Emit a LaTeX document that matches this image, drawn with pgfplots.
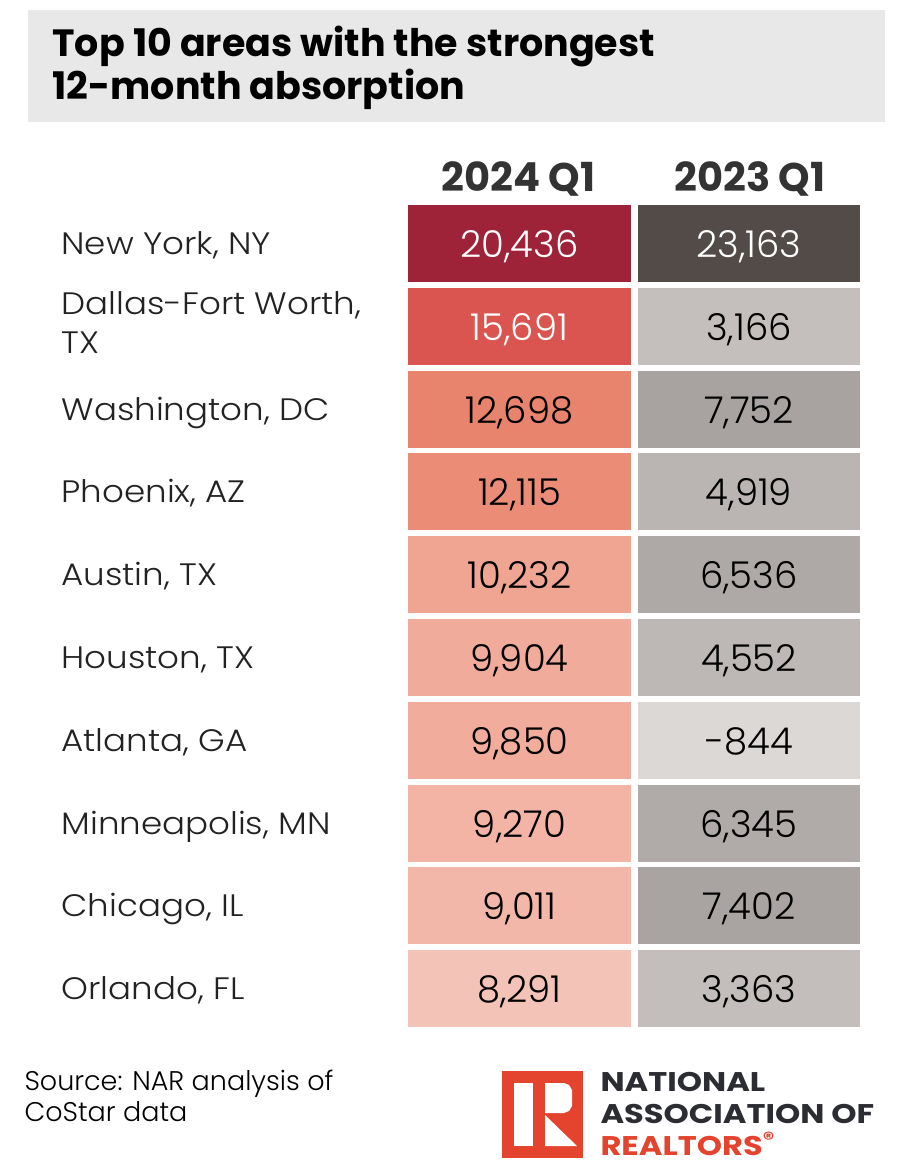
\documentclass[border=0pt]{standalone}
\usepackage{pgfplots}
\pgfplotsset{compat=1.18}
\usepackage{fontspec}
\setmainfont{Poppins}
\newfontfamily\lightfont{Poppins Light}
\definecolor{titlegray}{HTML}{E8E8E8}
\definecolor{labtxt}{HTML}{222222}
\definecolor{hdrtxt}{HTML}{333333}
\definecolor{nared}{HTML}{E4432D}
\definecolor{nadark}{HTML}{2B2D33}
% 2024 column colours
\definecolor{a1}{HTML}{9E2339}
\definecolor{a2}{HTML}{DB5550}
\definecolor{a3}{HTML}{E8836D}
\definecolor{a4}{HTML}{EA8C76}
\definecolor{a5}{HTML}{F0A593}
\definecolor{a6}{HTML}{F1AB9B}
\definecolor{a7}{HTML}{F1AC9C}
\definecolor{a8}{HTML}{F3B4A6}
\definecolor{a9}{HTML}{F3B7A9}
\definecolor{a10}{HTML}{F4C3B8}
% 2023 column colours
\definecolor{b1}{HTML}{524B48}
\definecolor{b2}{HTML}{C4BFBC}
\definecolor{b3}{HTML}{A8A3A0}
\definecolor{b4}{HTML}{BAB5B2}
\definecolor{b5}{HTML}{AEA9A6}
\definecolor{b6}{HTML}{BDB8B5}
\definecolor{b7}{HTML}{DCD8D5}
\definecolor{b8}{HTML}{B0ABA8}
\definecolor{b9}{HTML}{A9A4A1}
\definecolor{b10}{HTML}{C3BEBB}
\newcommand{\cellbox}[5]{\addplot[fill=#5, draw=none] coordinates {(#1,#3) (#2,#3) (#2,#4) (#1,#4)} -- cycle;}
\newcommand{\labfont}{\lightfont\addfontfeatures{FakeStretch=1.1}\fontsize{31}{40}\selectfont}
\newcommand{\numfont}{\lightfont\fontsize{37}{44}\selectfont}
\newcommand{\logofont}{\fontsize{27}{30}\selectfont\bfseries\addfontfeatures{FakeStretch=1.19}}
\begin{document}
\begin{tikzpicture}
\begin{axis}[scale only axis, width=908pt, height=1174pt,
  xmin=0, xmax=908, ymin=0, ymax=1174, y dir=reverse,
  hide axis, clip=false]
\cellbox{0}{908}{0}{1174}{white}
\cellbox{28}{885}{10}{122}{titlegray}
% 2024 Q1 column
\cellbox{408}{631}{205}{282}{a1}
\cellbox{408}{631}{288}{365}{a2}
\cellbox{408}{631}{371}{448}{a3}
\cellbox{408}{631}{453}{530}{a4}
\cellbox{408}{631}{536}{613}{a5}
\cellbox{408}{631}{619}{696}{a6}
\cellbox{408}{631}{702}{779}{a7}
\cellbox{408}{631}{785}{862}{a8}
\cellbox{408}{631}{867}{944}{a9}
\cellbox{408}{631}{950}{1027}{a10}
% 2023 Q1 column
\cellbox{638}{860}{205}{282}{b1}
\cellbox{638}{860}{288}{365}{b2}
\cellbox{638}{860}{371}{448}{b3}
\cellbox{638}{860}{453}{530}{b4}
\cellbox{638}{860}{536}{613}{b5}
\cellbox{638}{860}{619}{696}{b6}
\cellbox{638}{860}{702}{779}{b7}
\cellbox{638}{860}{785}{862}{b8}
\cellbox{638}{860}{867}{944}{b9}
\cellbox{638}{860}{950}{1027}{b10}
% logo
\cellbox{502}{583}{1071}{1158}{nared}
\cellbox{514}{533}{1083}{1146}{white}
\addplot[fill=white, draw=none] coordinates {(545,1083) (564,1083) (569,1085) (572,1090) (572,1106) (569,1111) (564,1113) (545,1113)} -- cycle;
\addplot[fill=white, draw=none] coordinates {(545,1115) (545,1146) (577,1146)} -- cycle;
% title
\node[anchor=base west, font=\fontsize{38}{44}\selectfont\bfseries, text=black] at (axis cs:49,57) {Top 10 areas with the strongest};
\node[anchor=base west, font=\fontsize{38}{44}\selectfont\bfseries, text=black] at (axis cs:49,100) {12-month absorption};
% headers
\node[anchor=base, font=\fontsize{40}{48}\selectfont\bfseries, text=hdrtxt] at (axis cs:518.5,192) {2024 Q1};
\node[anchor=base, font=\fontsize{40}{48}\selectfont\bfseries, text=hdrtxt] at (axis cs:750,192) {2023 Q1};
% row labels
\node[anchor=base west, font=\labfont, text=labtxt] at (axis cs:58,254.5) {New York, NY};
\node[anchor=base west, font=\labfont, text=labtxt] at (axis cs:58,314) {Dallas-Fort Worth,};
\node[anchor=base west, font=\labfont, text=labtxt] at (axis cs:58,353) {TX};
\node[anchor=base west, font=\labfont, text=labtxt] at (axis cs:58,420.5) {Washington, DC};
\node[anchor=base west, font=\labfont, text=labtxt] at (axis cs:58,502.5) {Phoenix, AZ};
\node[anchor=base west, font=\labfont, text=labtxt] at (axis cs:58,585.5) {Austin, TX};
\node[anchor=base west, font=\labfont, text=labtxt] at (axis cs:58,668.5) {Houston, TX};
\node[anchor=base west, font=\labfont, text=labtxt] at (axis cs:58,751.5) {Atlanta, GA};
\node[anchor=base west, font=\labfont, text=labtxt] at (axis cs:58,834.5) {Minneapolis, MN};
\node[anchor=base west, font=\labfont, text=labtxt] at (axis cs:58,916.5) {Chicago, IL};
\node[anchor=base west, font=\labfont, text=labtxt] at (axis cs:58,999.5) {Orlando, FL};
% 2024 values
\node[anchor=base, font=\numfont, text=white] at (axis cs:519.5,257) {20,436};
\node[anchor=base, font=\numfont, text=white] at (axis cs:519.5,340) {15,691};
\node[anchor=base, font=\numfont, text=black] at (axis cs:519.5,423) {12,698};
\node[anchor=base, font=\numfont, text=black] at (axis cs:519.5,505) {12,115};
\node[anchor=base, font=\numfont, text=black] at (axis cs:519.5,588) {10,232};
\node[anchor=base, font=\numfont, text=black] at (axis cs:519.5,671) {9,904};
\node[anchor=base, font=\numfont, text=black] at (axis cs:519.5,754) {9,850};
\node[anchor=base, font=\numfont, text=black] at (axis cs:519.5,837) {9,270};
\node[anchor=base, font=\numfont, text=black] at (axis cs:519.5,919) {9,011};
\node[anchor=base, font=\numfont, text=black] at (axis cs:519.5,1002) {8,291};
% 2023 values
\node[anchor=base, font=\numfont, text=white] at (axis cs:749,257) {23,163};
\node[anchor=base, font=\numfont, text=black] at (axis cs:749,340) {3,166};
\node[anchor=base, font=\numfont, text=black] at (axis cs:749,423) {7,752};
\node[anchor=base, font=\numfont, text=black] at (axis cs:749,505) {4,919};
\node[anchor=base, font=\numfont, text=black] at (axis cs:749,588) {6,536};
\node[anchor=base, font=\numfont, text=black] at (axis cs:749,671) {4,552};
\node[anchor=base, font=\numfont, text=black] at (axis cs:749,754) {-844};
\node[anchor=base, font=\numfont, text=black] at (axis cs:749,837) {6,345};
\node[anchor=base, font=\numfont, text=black] at (axis cs:749,919) {7,402};
\node[anchor=base, font=\numfont, text=black] at (axis cs:749,1002) {3,363};
% footer
\node[anchor=base west, font=\lightfont\fontsize{27}{32}\selectfont, text=black] at (axis cs:21,1090) {Source: NAR analysis of};
\node[anchor=base west, font=\lightfont\fontsize{27}{32}\selectfont, text=black] at (axis cs:21,1121) {CoStar data};
\node[anchor=base west, font=\logofont, text=nadark] at (axis cs:597,1091) {NATIONAL};
\node[anchor=base west, font=\logofont, text=nadark] at (axis cs:597,1123) {ASSOCIATION OF};
\node[anchor=base west, font=\logofont, text=nared] at (axis cs:597,1155) {REALTORS\textsuperscript{®}};
\end{axis}
\end{tikzpicture}
\end{document}
